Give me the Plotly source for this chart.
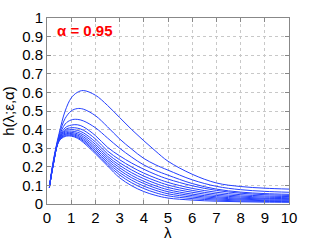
import plotly.graph_objects as go

lam = [0.1, 0.25, 0.5, 0.75, 1, 1.25, 1.5, 2, 2.5, 3, 3.5, 4, 4.5, 5, 6, 7, 8, 9, 10]

h_A = [0.09, 0.225, 0.38, 0.50, 0.57, 0.60, 0.61, 0.585, 0.53, 0.465, 0.40, 0.34, 0.283, 0.23, 0.16, 0.113, 0.094, 0.085, 0.08]
h_B = [0.09, 0.22, 0.37, 0.46, 0.50, 0.513, 0.51, 0.475, 0.415, 0.35, 0.295, 0.245, 0.21, 0.182, 0.13, 0.095, 0.077, 0.068, 0.063]
h_C = [0.09, 0.215, 0.36, 0.43, 0.452, 0.455, 0.447, 0.41, 0.355, 0.30, 0.252, 0.21, 0.18, 0.155, 0.11, 0.08, 0.064, 0.056, 0.052]
h_D = [0.09, 0.212, 0.355, 0.41, 0.424, 0.426, 0.415, 0.368, 0.305, 0.259, 0.22, 0.187, 0.158, 0.134, 0.098, 0.073, 0.058, 0.05, 0.046]
h_E = [0.09, 0.211, 0.352, 0.40, 0.41, 0.408, 0.397, 0.35, 0.285, 0.238, 0.199, 0.166, 0.139, 0.116, 0.084, 0.063, 0.05, 0.043, 0.04]
h_F = [0.09, 0.21, 0.35, 0.393, 0.40, 0.396, 0.383, 0.334, 0.27, 0.222, 0.183, 0.15, 0.124, 0.102, 0.073, 0.054, 0.043, 0.037, 0.034]
h_G = [0.09, 0.209, 0.348, 0.387, 0.392, 0.386, 0.372, 0.321, 0.257, 0.208, 0.168, 0.136, 0.11, 0.089, 0.063, 0.046, 0.037, 0.031, 0.029]
h_H = [0.09, 0.208, 0.346, 0.381, 0.385, 0.378, 0.362, 0.309, 0.246, 0.195, 0.154, 0.122, 0.097, 0.077, 0.053, 0.039, 0.031, 0.027, 0.025]
h_I = [0.09, 0.207, 0.344, 0.376, 0.379, 0.371, 0.353, 0.298, 0.235, 0.182, 0.141, 0.11, 0.085, 0.066, 0.045, 0.033, 0.026, 0.022, 0.021]
h_J = [0.09, 0.206, 0.342, 0.372, 0.374, 0.365, 0.345, 0.288, 0.224, 0.169, 0.128, 0.096, 0.073, 0.055, 0.037, 0.027, 0.021, 0.018, 0.017]
h_K = [0.09, 0.205, 0.34, 0.367, 0.369, 0.359, 0.338, 0.279, 0.214, 0.156, 0.114, 0.083, 0.06, 0.044, 0.029, 0.021, 0.016, 0.014, 0.013]
h_L = [0.09, 0.204, 0.338, 0.363, 0.365, 0.354, 0.331, 0.27, 0.205, 0.141, 0.098, 0.067, 0.046, 0.032, 0.021, 0.015, 0.012, 0.01, 0.009]

series = [h_A, h_B, h_C, h_D, h_E, h_F, h_G, h_H, h_I, h_J, h_K, h_L]

x_ticks = list(range(0, 11))
y_ticks = [0, 0.1, 0.2, 0.3, 0.4, 0.5, 0.6, 0.7, 0.8, 0.9, 1]
y_tick_text = ["0", "0.1", "0.2", "0.3", "0.4", "0.5", "0.6", "0.7", "0.8", "0.9", "1"]

fig = go.Figure()
for s in series:
    fig.add_trace(go.Scatter(x=lam, y=s, mode="lines",
                             line=dict(color="#2440ff", width=1, shape="spline", smoothing=1.0),
                             showlegend=False, hoverinfo="skip"))

font = dict(family="Liberation Sans, Arial, sans-serif", size=15, color="black")
axis_common = dict(showline=True, linecolor="#888888", linewidth=1, mirror="ticks",
                   ticks="inside", ticklen=4, tickcolor="#888888",
                   showgrid=True, gridcolor="#c8c8c8", griddash="dot", gridwidth=1,
                   zeroline=False, tickfont=font, automargin=False)

fig.update_layout(
    width=319, height=240,
    margin=dict(l=47, r=30, t=18, b=36),
    paper_bgcolor="white", plot_bgcolor="white",
    xaxis=dict(range=[0, 10], tickvals=x_ticks, ticktext=[str(v) for v in x_ticks], **axis_common),
    yaxis=dict(range=[0, 1], tickvals=y_ticks, ticktext=y_tick_text,
               title=dict(text="h(λ;ε,α)", font=font, standoff=4), **axis_common),
    annotations=[
        dict(x=0.033, y=0.935, xref="paper", yref="paper", xanchor="left", yanchor="middle",
             text="<b>α = 0.95</b>", showarrow=False,
             font=dict(family="Liberation Sans, Arial, sans-serif", size=15, color="#ff0000")),
        dict(x=0.5, y=-0.155, xref="paper", yref="paper", xanchor="center", yanchor="middle",
             text="λ", showarrow=False, font=font),
    ],
)

fig.write_html("out.html", config={"displayModeBar": False},
               post_script="document.body.style.margin='0px';document.body.style.overflow='hidden';")
